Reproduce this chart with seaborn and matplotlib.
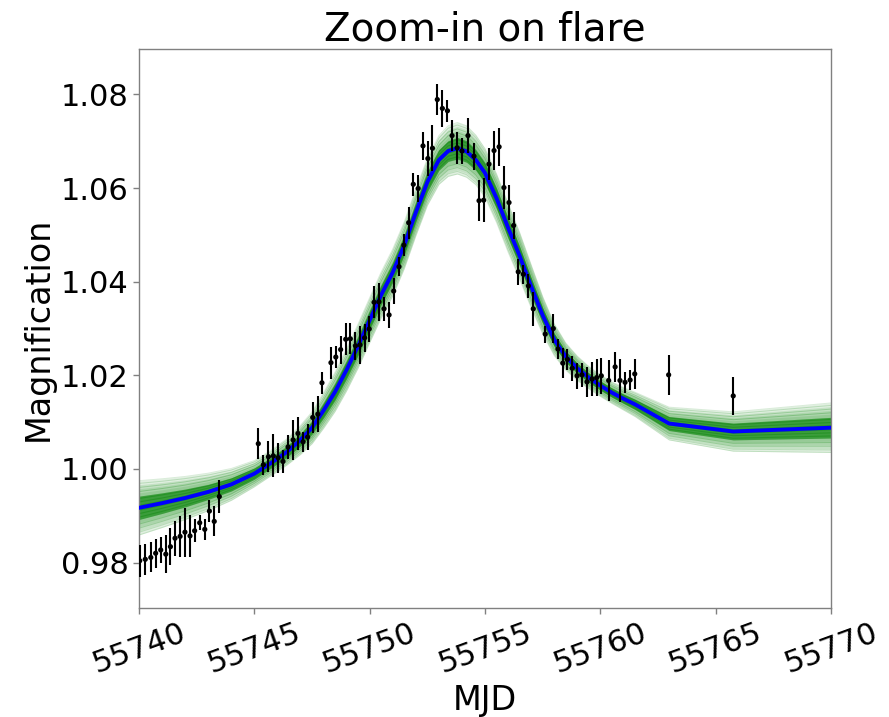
import numpy as np
import pandas as pd
import matplotlib
matplotlib.use("Agg")
import matplotlib.pyplot as plt
import seaborn as sns

# ---- observed data (MJD, magnification, 1-sigma error) ----
mjd = [
    55740.03, 55740.27, 55740.51, 55740.72, 55740.94, 55741.16, 55741.36, 55741.56, 55741.78, 55741.99,
    55742.21, 55742.41, 55742.63, 55742.85, 55743.05, 55743.26, 55743.48,
    55745.17, 55745.39, 55745.61, 55745.82, 55746.03, 55746.24, 55746.46, 55746.68, 55746.89, 55747.11,
    55747.31, 55747.53, 55747.75,
    55747.93, 55748.32, 55748.53, 55748.74, 55748.96, 55749.16, 55749.38, 55749.58, 55749.78, 55749.98,
    55750.19, 55750.40, 55750.62, 55750.84, 55751.04, 55751.27, 55751.48, 55751.69, 55751.89, 55752.10,
    55752.31, 55752.52, 55752.72, 55752.93, 55753.15, 55753.37, 55753.57, 55753.79, 55754.00, 55754.26,
    55754.52, 55754.74, 55754.94, 55755.17, 55755.39, 55755.61, 55755.82, 55756.04, 55756.24, 55756.44,
    55756.66, 55756.88, 55757.09,
    55757.61, 55757.96, 55758.16, 55758.37, 55758.57, 55758.78, 55758.99, 55759.20, 55759.42, 55759.64,
    55759.84, 55760.04, 55760.36, 55760.64, 55760.85, 55761.07, 55761.29, 55761.49, 55762.96, 55765.76,
]
mag = [
    0.9804, 0.9807, 0.9811, 0.9820, 0.9827, 0.9818, 0.9834, 0.9852, 0.9856, 0.9865,
    0.9857, 0.9868, 0.9885, 0.9871, 0.9910, 0.9888, 0.9941,
    1.0054, 1.0009, 1.0026, 1.0028, 1.0024, 1.0016, 1.0047, 1.0062, 1.0076, 1.0058,
    1.0068, 1.0110, 1.0117,
    1.0184, 1.0227, 1.0239, 1.0255, 1.0277, 1.0278, 1.0263, 1.0265, 1.0280, 1.0299,
    1.0356, 1.0357, 1.0342, 1.0329, 1.0380, 1.0432, 1.0478, 1.0526, 1.0608, 1.0599,
    1.0690, 1.0663, 1.0685, 1.0789, 1.0770, 1.0765, 1.0712, 1.0686, 1.0679, 1.0712,
    1.0668, 1.0573, 1.0574, 1.0651, 1.0680, 1.0688, 1.0601, 1.0569, 1.0520, 1.0421,
    1.0416, 1.0391, 1.0342,
    1.0288, 1.0300, 1.0256, 1.0226, 1.0234, 1.0215, 1.0199, 1.0201, 1.0186, 1.0192,
    1.0195, 1.0199, 1.0189, 1.0218, 1.0189, 1.0185, 1.0190, 1.0203, 1.0201, 1.0156,
]
err = [
    0.0034, 0.0033, 0.0032, 0.0031, 0.0028, 0.0040, 0.0040, 0.0037, 0.0043, 0.0052,
    0.0045, 0.0025, 0.0016, 0.0023, 0.0023, 0.0032, 0.0036,
    0.0033, 0.0021, 0.0033, 0.0046, 0.0032, 0.0024, 0.0025, 0.0043, 0.0036, 0.0021,
    0.0027, 0.0034, 0.0038,
    0.0023, 0.0034, 0.0024, 0.0030, 0.0034, 0.0033, 0.0030, 0.0041, 0.0030, 0.0028,
    0.0034, 0.0041, 0.0025, 0.0027, 0.0027, 0.0020, 0.0023, 0.0034, 0.0024, 0.0028,
    0.0030, 0.0038, 0.0049, 0.0034, 0.0039, 0.0024, 0.0033, 0.0034, 0.0028, 0.0037,
    0.0029, 0.0044, 0.0047, 0.0034, 0.0041, 0.0041, 0.0046, 0.0038, 0.0028, 0.0028,
    0.0020, 0.0025, 0.0036,
    0.0018, 0.0030, 0.0021, 0.0032, 0.0023, 0.0027, 0.0028, 0.0026, 0.0032, 0.0036,
    0.0039, 0.0038, 0.0043, 0.0032, 0.0045, 0.0023, 0.0022, 0.0032, 0.0043, 0.0041,
]

# ---- model: best fit and spread of posterior samples ----
t_model = [
    55739.5, 55740.0, 55741.0, 55742.0, 55743.0, 55744.0, 55745.0, 55745.7, 55746.4, 55747.0,
    55747.5, 55748.0, 55748.5, 55749.0, 55749.5, 55750.0, 55750.5, 55751.0, 55751.5, 55752.0,
    55752.5, 55753.0, 55753.4, 55753.8, 55754.2, 55754.6, 55755.0, 55755.5, 55756.0, 55756.5,
    55757.0, 55757.5, 55758.0, 55758.5, 55759.0, 55759.5, 55760.0, 55760.5, 55761.0, 55761.5,
    55762.98, 55765.76, 55772.0,
]
best_fit = [
    0.9912, 0.9917, 0.9927, 0.9938, 0.9951, 0.9967, 0.9990, 1.0012, 1.0036, 1.0062,
    1.0088, 1.0125, 1.0165, 1.0212, 1.0263, 1.0318, 1.0372, 1.0420, 1.0478, 1.0548,
    1.0613, 1.0660, 1.0679, 1.0685, 1.0678, 1.0660, 1.0632, 1.0578, 1.0515, 1.0455,
    1.0390, 1.0328, 1.0276, 1.0240, 1.0215, 1.0195, 1.0178, 1.0163, 1.0150, 1.0138,
    1.0097, 1.0080, 1.0092,
]
spread_outer = [
    0.0060, 0.0058, 0.0052, 0.0046, 0.0040, 0.0034, 0.0028, 0.0027, 0.0028, 0.0031,
    0.0034, 0.0038, 0.0042, 0.0045, 0.0047, 0.0048, 0.0049, 0.0050, 0.0050, 0.0050,
    0.0050, 0.0052, 0.0054, 0.0055, 0.0055, 0.0053, 0.0052, 0.0052, 0.0052, 0.0050,
    0.0046, 0.0040, 0.0034, 0.0029, 0.0026, 0.0024, 0.0023, 0.0023, 0.0024, 0.0026,
    0.0035, 0.0042, 0.0058,
]
spread_inner = [
    0.0026, 0.0025, 0.0022, 0.0019, 0.0016, 0.0014, 0.0012, 0.0011, 0.0012, 0.0013,
    0.0014, 0.0016, 0.0018, 0.0019, 0.0020, 0.0020, 0.0021, 0.0021, 0.0021, 0.0021,
    0.0021, 0.0022, 0.0022, 0.0023, 0.0023, 0.0022, 0.0022, 0.0022, 0.0022, 0.0021,
    0.0019, 0.0017, 0.0014, 0.0012, 0.0011, 0.0010, 0.0010, 0.0010, 0.0010, 0.0011,
    0.0015, 0.0018, 0.0024,
]

x_ticks = [55740, 55745, 55750, 55755, 55760, 55765, 55770]
y_ticks = [0.98, 1.00, 1.02, 1.04, 1.06, 1.08]

obs = pd.DataFrame({"MJD": mjd, "mag": mag, "err": err})
model = pd.DataFrame({"MJD": t_model, "best": best_fit,
                      "outer": spread_outer, "inner": spread_inner})

sns.set_theme(style="white")
plt.rcParams["font.family"] = ["DejaVu Sans"]
plt.rcParams["text.color"] = "black"
plt.rcParams["axes.labelcolor"] = "black"
plt.rcParams["xtick.color"] = "black"
plt.rcParams["ytick.color"] = "black"

fig = plt.figure(figsize=(8.89, 7.17), dpi=100)
ax = fig.add_axes([0.1564, 0.152, 0.7784, 0.7797])

b = model["best"].to_numpy()
o = model["outer"].to_numpy()
i = model["inner"].to_numpy()
t = model["MJD"].to_numpy()

# ensemble of posterior curves, rendered as stacked translucent layers
for f in [1.0, 0.85, 0.7, 0.55, 0.42]:
    ax.fill_between(t, b - f * o, b + f * o, color="green", alpha=0.12, lw=0, zorder=1)
ax.fill_between(t, b - i, b + i, color="green", alpha=0.55, lw=0, zorder=1)
for f, a in [(1.0, 0.15), (0.9, 0.18), (0.75, 0.22), (0.6, 0.25),
             (-0.6, 0.25), (-0.75, 0.22), (-0.9, 0.18), (-1.0, 0.15)]:
    ax.plot(t, b + f * o, color="green", alpha=a, lw=0.7, zorder=1)
for f in [0.8, 0.5, 0.2, -0.2, -0.5, -0.8]:
    ax.plot(t, b + f * i, color="green", alpha=0.35, lw=0.8, zorder=2)

sns.lineplot(data=model, x="MJD", y="best", color="blue", lw=2.8,
             sort=False, estimator=None, ax=ax, zorder=3)

ax.errorbar(obs["MJD"], obs["mag"], yerr=obs["err"], fmt="none",
            ecolor="black", elinewidth=1.5, capsize=0, zorder=4)
sns.scatterplot(data=obs, x="MJD", y="mag", color="black", s=14,
                edgecolor="none", ax=ax, zorder=5)

ax.set_xlim(55740, 55770)
ax.set_ylim(0.9703, 1.0897)
ax.set_xticks(x_ticks)
ax.set_xticklabels([str(v) for v in x_ticks], rotation=20)
ax.set_yticks(y_ticks)
ax.set_yticklabels([f"{v:.2f}" for v in y_ticks])
ax.tick_params(axis="both", labelsize=22, length=4, width=1, color="gray",
               direction="out", bottom=True, left=True)
ax.set_xlabel("MJD", fontsize=24)
ax.set_ylabel("Magnification", fontsize=24)
ax.set_title("Zoom-in on flare", fontsize=28)
for s in ax.spines.values():
    s.set_color("gray")
    s.set_linewidth(1.0)

fig.savefig("out.png", dpi=100)
